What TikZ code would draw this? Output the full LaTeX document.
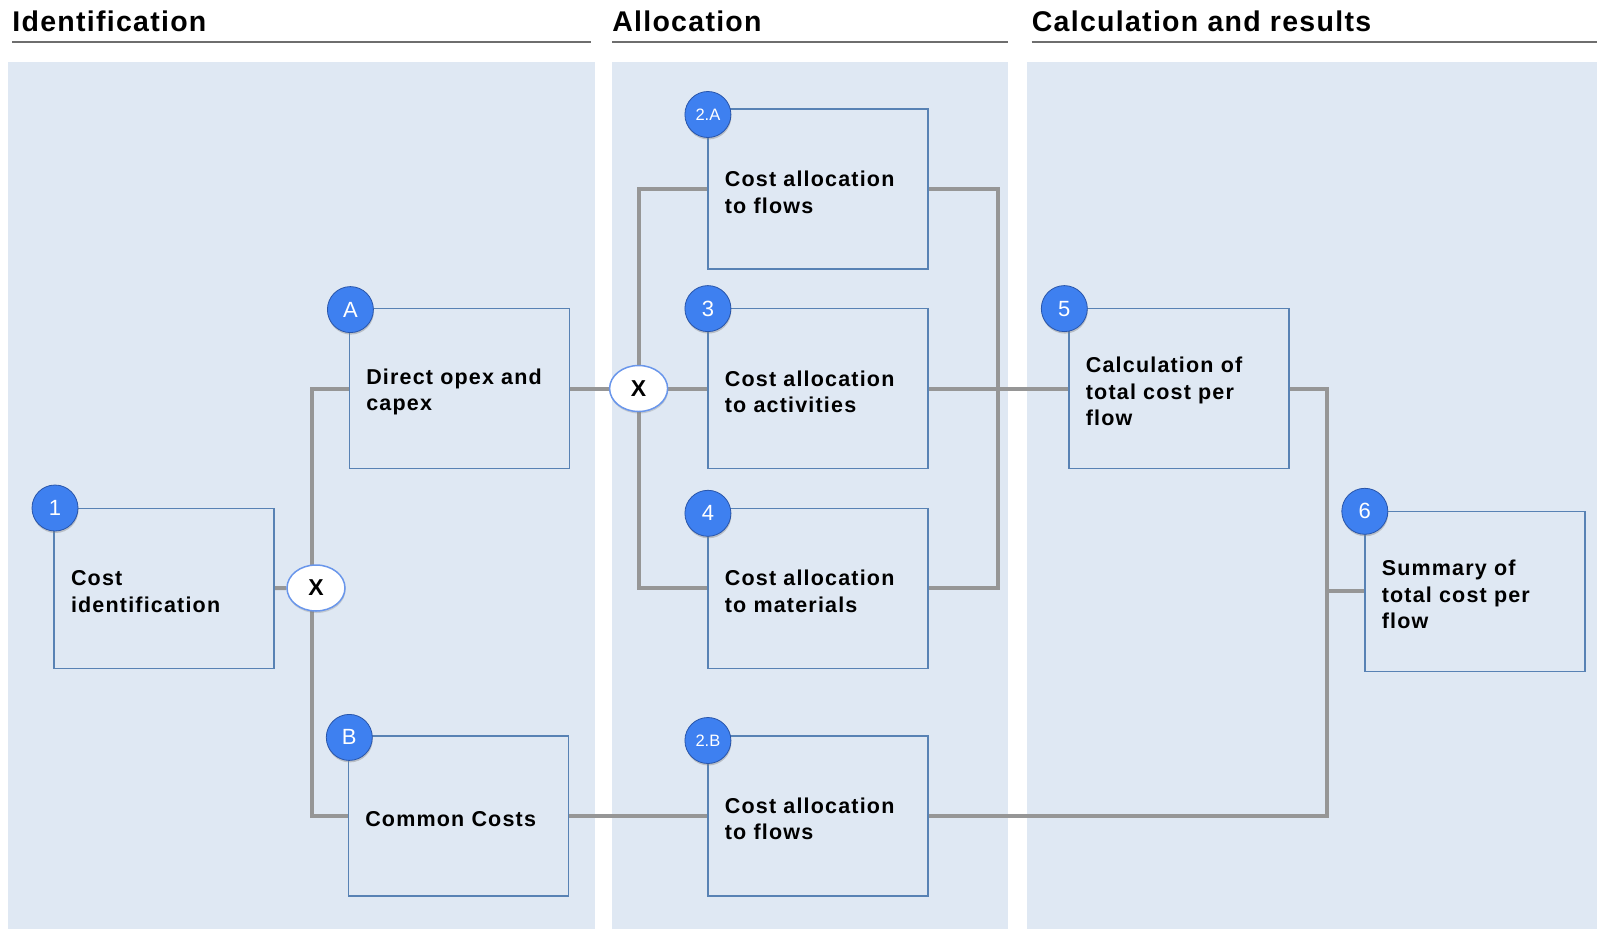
\documentclass[tikz,border=0pt]{standalone}
\usepackage{fontspec}
\setmainfont{Liberation Sans}
\newfontfamily\titlefont[LetterSpace=4.5]{Liberation Sans}
\newfontfamily\boxfont[LetterSpace=5.5]{Liberation Sans}
\usetikzlibrary{shapes.geometric,shadows}
\pgfdeclarelayer{bg}
\pgfdeclarelayer{lines}
\pgfsetlayers{bg,lines,main}
\definecolor{panelc}{RGB}{223,232,243}
\definecolor{boxline}{RGB}{88,130,180}
\definecolor{conn}{RGB}{150,150,150}
\definecolor{uline}{RGB}{110,110,110}
\definecolor{badgec}{RGB}{62,128,240}
\definecolor{badgeline}{RGB}{40,85,170}
\definecolor{xline}{RGB}{105,150,235}
\tikzset{
  panel/.style={fill=panelc, draw=none},
  title/.style={anchor=base west, inner sep=0pt, font=\titlefont\bfseries\fontsize{28.5}{34}\selectfont},
  stepbox/.style={draw=boxline, line width=1.4pt, fill=panelc, rectangle, minimum width=220pt, minimum height=160pt, text width=186pt, inner xsep=17pt, inner ysep=0pt, align=left, font=\boxfont\bfseries\fontsize{21.5}{26.5}\selectfont, execute at begin node={\rule{0pt}{22pt}}},
  badge/.style={circle, fill=badgec, draw=badgeline, line width=0.8pt, minimum size=46pt, inner sep=0pt, text=white, font=\fontsize{22}{24}\selectfont, drop shadow={opacity=0.4, shadow xshift=0.5pt, shadow yshift=-2pt}},
  smallbadge/.style={badge, font=\fontsize{16.5}{18}\selectfont},
  xnode/.style={ellipse, fill=white, draw=xline, line width=1.5pt, minimum width=58pt, minimum height=46pt, inner sep=0pt, font=\bfseries\fontsize{23}{24}\selectfont, drop shadow={opacity=0.3, shadow xshift=0.5pt, shadow yshift=-2pt}},
  connector/.style={draw=conn, line width=4pt},
  underline/.style={draw=uline, line width=2pt}
}
\begin{document}
\begin{tikzpicture}[x=1pt,y=-1pt]
\useasboundingbox (0,0) rectangle (1597,929);
% panels
\begin{pgfonlayer}{bg}
\fill[white] (0,0) rectangle (1597,929);
\path[panel] (8.1,62.1) rectangle (594.8,929);
\path[panel] (612.1,62.1) rectangle (1008.3,929);
\path[panel] (1026.6,62.1) rectangle (1597,929);
\end{pgfonlayer}
% titles
\node[title] (t1) at (12.2,31) {Identification};
\node[title] (t2) at (612.1,31) {Allocation};
\node[title] (t3) at (1031.7,31) {Calculation and results};
\draw[underline] (12.2,41.8) -- (590.7,41.8);
\draw[underline] (612.1,41.8) -- (1008.3,41.8);
\draw[underline] (1031.7,41.8) -- (1597,41.8);
% boxes
\node[stepbox] (b1) at (164,588.2) {Cost\\identification};
\node[stepbox] (bA) at (459.3,388.5) {Direct opex and\\capex};
\node[stepbox] (bB) at (458.3,815.8) {Common Costs};
\node[stepbox] (b2A) at (817.9,189) {Cost allocation\\to flows};
\node[stepbox] (b3) at (817.9,388.5) {Cost allocation\\to activities};
\node[stepbox] (b4) at (817.9,588.2) {Cost allocation\\to materials};
\node[stepbox] (b2B) at (817.9,815.8) {Cost allocation\\to flows};
\node[stepbox] (b5) at (1178.9,388.5) {Calculation of\\total cost per\\flow};
\node[stepbox] (b6) at (1474.8,591.2) {Summary of\\total cost per\\flow};
% junction nodes
\node[xnode] (x1) at (316,588) {X};
\node[xnode] (x2) at (638.6,388.5) {X};
\coordinate (j1) at (312,588);
\coordinate (j2) at (998,388.5);
\coordinate (j3) at (1327,591.2);
% badges
\node[badge] (k1) at (55,508) {1};
\node[badge] (kA) at (350.4,309.6) {A};
\node[badge] (kB) at (349.3,737.4) {B};
\node[smallbadge] (k2A) at (707.9,114.5) {2.A};
\node[badge] (k3) at (707.9,308.6) {3};
\node[badge] (k4) at (707.9,513.3) {4};
\node[smallbadge] (k2B) at (707.9,740.5) {2.B};
\node[badge] (k5) at (1064.3,308.6) {5};
\node[badge] (k6) at (1364.8,511.3) {6};
% connectors
\begin{pgfonlayer}{lines}
\draw[connector] (b1.east) -- (x1.west);
\draw[connector] (bA.west) -| (j1) |- (bB.west);
\draw[connector] (bA.east) -- (x2.west);
\draw[connector] (b2A.west) -| (x2.center) |- (b4.west);
\draw[connector] (x2.east) -- (b3.west);
\draw[connector] (bB.east) -- (b2B.west);
\draw[connector] (b2A.east) -| (j2) |- (b4.east);
\draw[connector] (b3.east) -- (b5.west);
\draw[connector] (b5.east) -| (j3) |- (b2B.east);
\draw[connector] (j3) -- (b6.west);
\end{pgfonlayer}
\end{tikzpicture}
\end{document}
